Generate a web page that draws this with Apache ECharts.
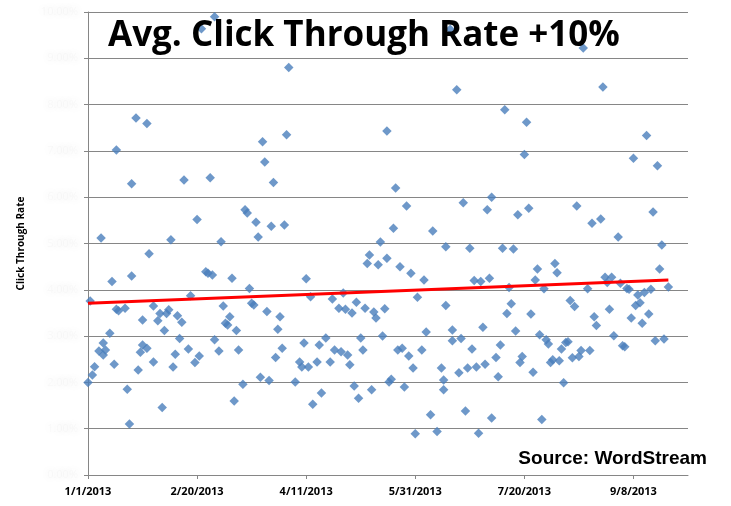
<!DOCTYPE html>
<html>
<head>
<meta charset="utf-8">
<script src="https://cdn.jsdelivr.net/npm/echarts@6/dist/echarts.min.js"></script>
<style>
html,body{margin:0;padding:0;background:#fff;}
#chart{width:731px;height:506px;}
</style>
</head>
<body>
<div id="chart"></div>
<script>
// Days since 1/1/2013 for each daily observation
const days = [
0,1,2,3,5,6,7,7,8,10,11,12,13,13,14,17,18,19,20,20,22,23,24,25,25,27,27,28,30,30,32,33,34,35,36,37,38,39,40,41,42,43,44,46,47,49,50,51,52,54,55,56,57,58,58,60,61,62,63,64,65,66,67,68,69,71,72,73,74,75,76,77,78,79,80,81,82,83,84,85,86,87,88,89,90,91,92,
95,97,98,99,100,101,102,103,105,106,107,109,111,112,113,115,116,117,118,119,120,121,122,123,124,125,126,127,128,129,130,131,132,133,134,135,136,137,137,138,139,140,141,142,143,144,145,146,147,148,149,150,151,153,154,155,157,158,
160,162,163,163,164,164,166,167,167,169,170,171,172,173,174,175,176,177,178,179,180,181,182,183,184,185,185,187,188,189,190,191,192,193,194,195,196,197,198,199,200,201,202,203,204,205,206,207,208,209,210,211,212,213,214,215,216,217,218,219,220,221,222,223,224,225,226,227,229,230,231,232,233,235,236,237,238,239,240,241,243,244,245,246,247,248,249,250,251,252,253,254,255,256,257,258,259,260,261,262,263,264,266
];
// Daily click through rate (%)
const ctr = [
2.00,3.76,2.16,2.34,2.68,5.12,2.85,2.59,2.70,3.06,4.18,2.39,3.58,7.02,3.55,3.60,1.85,1.10,4.30,6.29,7.71,2.27,2.65,3.35,2.81,2.74,7.59,4.78,3.65,2.44,3.33,3.49,1.46,3.12,3.49,3.57,5.08,2.33,2.61,3.44,2.95,3.30,6.37,2.72,3.87,2.43,5.52,2.57,9.64,4.39,4.36,6.42,4.32,2.92,9.90,2.68,5.04,3.65,3.28,3.24,3.42,4.25,1.60,3.12,2.70,1.96,5.73,5.66,4.03,3.71,3.67,5.46,5.14,2.11,7.20,6.76,3.53,2.04,5.37,6.32,2.54,3.15,3.42,2.74,5.40,7.35,8.80,
2.01,2.44,2.33,2.85,4.24,2.33,3.85,1.53,2.44,2.81,1.77,2.96,2.44,3.80,2.70,3.60,2.66,3.93,3.58,2.59,2.38,3.50,1.92,3.73,1.66,2.96,2.70,3.60,4.57,4.75,1.84,3.52,3.39,4.54,5.03,3.00,3.59,4.68,7.43,2.01,2.07,5.33,6.20,2.70,4.50,2.74,1.90,5.81,2.57,4.36,2.31,0.89,3.84,2.70,4.21,3.09,1.30,5.27,
0.94,2.31,2.05,1.84,3.66,4.93,9.63,2.90,3.13,8.32,2.21,2.95,5.88,1.38,2.31,4.90,2.72,4.20,2.33,0.90,4.18,3.19,2.39,5.73,4.25,6.00,1.23,2.54,2.12,2.81,4.90,7.89,3.49,4.05,3.70,4.88,3.11,5.62,2.43,2.56,6.92,7.62,5.76,3.48,2.22,4.21,4.45,3.03,1.20,4.02,2.92,2.83,2.43,2.49,4.57,4.37,2.47,2.72,1.99,2.86,2.88,3.77,2.53,3.64,5.81,2.56,2.69,9.22,4.02,2.69,5.44,3.42,3.23,5.53,8.38,4.27,4.16,3.58,4.27,3.01,5.14,4.14,2.79,2.77,4.03,4.01,3.39,6.84,3.66,3.89,3.72,3.28,3.94,7.33,3.48,4.01,5.68,2.90,6.68,4.45,4.97,2.94,4.06
];
// Linear trend line endpoints
const trendDays = [0, 266];
const trendCtr = [3.71, 4.21];
// X tick positions (days since 1/1/2013) -> labels 1/1/2013, 2/20/2013, ...
const xTickDays = [0, 50, 100, 150, 200, 250];
const xMaxDay = 275;
// Y ticks (%)
const yMin = 0, yMax = 10, yStep = 1;

const titleText = 'Avg. Click Through Rate +10%';
const sourceText = 'Source: WordStream';
const yAxisTitle = 'Click Through Rate';

function dayLabel(d){
  const dt = new Date(2013, 0, 1 + Math.round(d));
  return (dt.getMonth()+1) + '/' + dt.getDate() + '/' + dt.getFullYear();
}

const chart = echarts.init(document.getElementById('chart'), null, {renderer:'canvas'});
const pts = days.map((d,i)=>[d, ctr[i]]);
const trend = trendDays.map((d,i)=>[d, trendCtr[i]]);
const gray = '#868686';

chart.setOption({
  animation:false,
  backgroundColor:'#ffffff',
  grid:{left:88, top:12, width:600, height:463},
  xAxis:{
    type:'value', min:0, max:xMaxDay,
    axisLine:{show:true, onZero:false, lineStyle:{color:gray, width:1}},
    axisTick:{show:true, length:4, customValues:xTickDays, lineStyle:{color:gray}},
    axisLabel:{customValues:xTickDays, formatter:dayLabel, color:'#000', fontFamily:'Open Sans', fontWeight:'bold', fontSize:11, margin:11},
    splitLine:{show:false}
  },
  yAxis:{
    type:'value', min:yMin, max:yMax, interval:yStep,
    name:yAxisTitle, nameLocation:'middle', nameGap:62, nameRotate:90,
    nameTextStyle:{color:'#000', fontFamily:'Open Sans', fontWeight:'bold', fontSize:10},
    axisLine:{show:true, lineStyle:{color:gray, width:1}},
    axisTick:{show:true, length:4, lineStyle:{color:gray}},
    axisLabel:{formatter:v=>v.toFixed(2)+'%', color:'rgba(210,210,210,0.12)', fontFamily:'Open Sans', fontSize:11, margin:10,
      textShadowColor:'rgba(90,90,90,1)', textShadowBlur:9},
    splitLine:{show:true, lineStyle:{color:gray, width:1}}
  },
  title:[{
    text:titleText, left:103, top:14,
    textStyle:{fontFamily:'Open Sans', fontWeight:'bold', fontSize:35, color:'#000'}
  },{
    text:sourceText, right:19, top:444,
    textStyle:{fontFamily:'Liberation Sans', fontWeight:'bold', fontSize:19, color:'#000'}
  }],
  series:[{
    type:'scatter', data:pts, symbol:'diamond', symbolSize:9.5,
    itemStyle:{color:'#4A7EBB'}, z:2
  },{
    type:'line', data:trend, symbol:'none',
    lineStyle:{color:'#FF0000', width:3}, z:3
  }]
});
</script>
</body>
</html>
